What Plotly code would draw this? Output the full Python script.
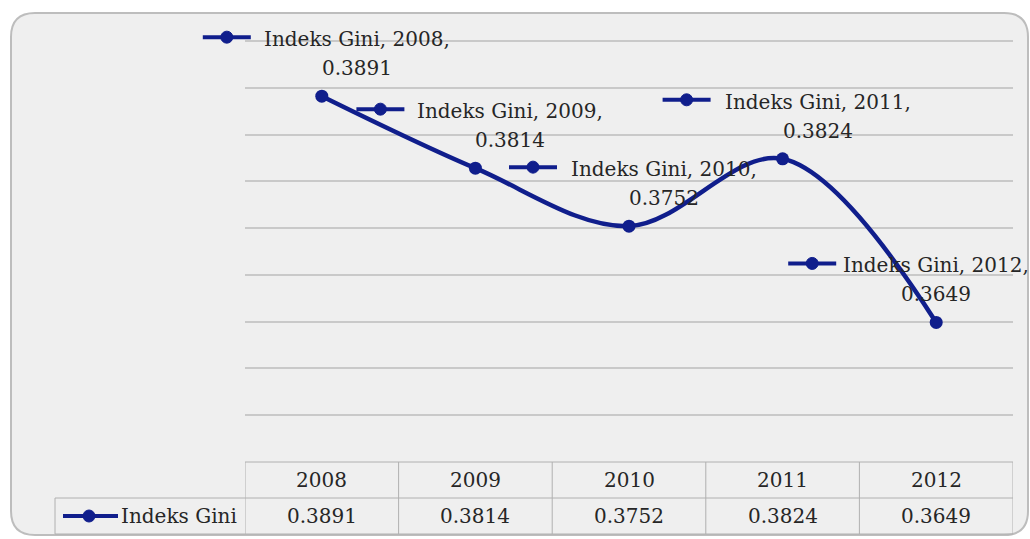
import plotly.graph_objects as go

# Gini index series
years = ["2008", "2009", "2010", "2011", "2012"]
gini = [0.3891, 0.3814, 0.3752, 0.3824, 0.3649]
series_name = "Indeks Gini"

NAVY = "#101e8c"
TEXT = "#262626"
GRID = "#c9c9c9"
TABLE_LINE = "#b0b0b0"
SERIF = "DejaVu Serif"

W, H = 1030, 539
L, R, T, B = 245, 17, 36, 119
PW, PH = W - L - R, H - T - B

# value axis: 0.355 .. 0.395 in 0.005 steps, padded a few pixels so that
# the outermost gridlines are still drawn
Y_MIN, Y_MAX, Y_STEP = 0.355, 0.395, 0.005
pad = 5 * (Y_MAX - Y_MIN) / (PH - 10)
Y_LO, Y_HI = Y_MIN - pad, Y_MAX + pad


def px(xp):
    return (xp - L) / PW


def py(yp):
    return (H - B - yp) / PH


n = len(years)

fig = go.Figure()
fig.add_trace(go.Scatter(
    x=years, y=gini, mode="lines+markers", name=series_name,
    line=dict(shape="spline", smoothing=1.0, color=NAVY, width=4.5),
    marker=dict(size=13, color=NAVY), cliponaxis=False, showlegend=False,
))

shapes = []
annotations = []

# rounded chart frame
x0, x1, y0, y1, r = 11, 1028, 13, 535, 24
rx, ry = r / PW, r / PH
path = (
    f"M {px(x0)+rx} {py(y0)} L {px(x1)-rx} {py(y0)} "
    f"Q {px(x1)} {py(y0)} {px(x1)} {py(y0)-ry} "
    f"L {px(x1)} {py(y1)+ry} Q {px(x1)} {py(y1)} {px(x1)-rx} {py(y1)} "
    f"L {px(x0)+rx} {py(y1)} Q {px(x0)} {py(y1)} {px(x0)} {py(y1)+ry} "
    f"L {px(x0)} {py(y0)-ry} Q {px(x0)} {py(y0)} {px(x0)+rx} {py(y0)} Z"
)
shapes.append(dict(type="path", xref="paper", yref="paper", path=path,
                   fillcolor="#efefef", line=dict(color="#bdbdbd", width=2),
                   layer="below"))

# data labels (name/category line, value line) with a legend key
label_dx = [35, 35, 35, 35, 0]
key_dx = [-95, -95, -96, -96, -124]
label_font = dict(family=SERIF, size=20, color=TEXT)
for i, (yr, v) in enumerate(zip(years, gini)):
    annotations.append(dict(
        x=i, y=v, xref="x", yref="y", showarrow=False,
        text=f"{series_name}, {yr},", font=label_font,
        xanchor="center", yanchor="middle",
        xshift=label_dx[i], yshift=57,
    ))
    annotations.append(dict(
        x=i, y=v, xref="x", yref="y", showarrow=False,
        text=f"{v:.4f}", font=label_font,
        xanchor="center", yanchor="middle",
        xshift=label_dx[i], yshift=28,
    ))
    # key drawn in paper space so it is not clipped by the plot area
    ax_ = (i + 0.5) / n
    ay_ = (v - Y_LO) / (Y_HI - Y_LO)
    kx = key_dx[i]
    shapes.append(dict(type="line", xref="paper", yref="paper",
                       xsizemode="pixel", ysizemode="pixel",
                       xanchor=ax_, yanchor=ay_,
                       x0=kx - 24, x1=kx + 24, y0=59, y1=59,
                       line=dict(color=NAVY, width=4)))
    shapes.append(dict(type="circle", xref="paper", yref="paper",
                       xsizemode="pixel", ysizemode="pixel",
                       xanchor=ax_, yanchor=ay_,
                       x0=kx - 6, x1=kx + 6, y0=53, y1=65,
                       fillcolor=NAVY, line=dict(color=NAVY, width=1)))

# data table under the plot
t_top, t_mid, t_bot = py(462), py(498), py(534)
t_left = px(55)
tl = dict(color=TABLE_LINE, width=1)
shapes.append(dict(type="line", xref="x", yref="paper", x0=-0.5, x1=n - 0.5,
                   y0=t_top, y1=t_top, line=tl))
for yy in (t_mid, t_bot):
    shapes.append(dict(type="line", xref="paper", yref="paper", x0=t_left,
                       x1=px(1013), y0=yy, y1=yy, line=tl))
shapes.append(dict(type="line", xref="paper", yref="paper", x0=t_left,
                   x1=t_left, y0=t_mid, y1=t_bot, line=tl))
for k in range(n + 1):
    shapes.append(dict(type="line", xref="x", yref="paper", x0=k - 0.5,
                       x1=k - 0.5, y0=t_top, y1=t_bot, line=tl))
table_font = dict(family=SERIF, size=20, color=TEXT)
for i, (yr, v) in enumerate(zip(years, gini)):
    annotations.append(dict(x=i, y=(t_top + t_mid) / 2, xref="x", yref="paper",
                            text=yr, showarrow=False, yanchor="middle",
                            font=table_font))
    annotations.append(dict(x=i, y=(t_mid + t_bot) / 2, xref="x", yref="paper",
                            text=f"{v:.4f}", showarrow=False, yanchor="middle",
                            font=table_font))

# legend key in the table's row header
ky = py(516)
shapes.append(dict(type="line", xref="paper", yref="paper", x0=px(63),
                   x1=px(118), y0=ky, y1=ky, line=dict(color=NAVY, width=4)))
shapes.append(dict(type="circle", xref="paper", yref="paper",
                   xsizemode="pixel", ysizemode="pixel",
                   xanchor=px(89), yanchor=ky, x0=-6, x1=6, y0=-6, y1=6,
                   fillcolor=NAVY, line=dict(color=NAVY, width=1)))
annotations.append(dict(x=px(239), y=ky, xref="paper", yref="paper",
                        text=series_name, showarrow=False,
                        xanchor="right", yanchor="middle",
                        font=table_font))

fig.update_layout(
    width=W, height=H,
    margin=dict(l=L, r=R, t=T, b=B, pad=0),
    paper_bgcolor="white", plot_bgcolor="rgba(0,0,0,0)",
    xaxis=dict(type="category", range=[-0.5, n - 0.5], showgrid=False,
               showticklabels=False, zeroline=False, showline=False,
               ticks=""),
    yaxis=dict(range=[Y_LO, Y_HI], tick0=Y_MIN, dtick=Y_STEP,
               showgrid=True, gridcolor=GRID, gridwidth=1.5,
               showticklabels=False, zeroline=False, showline=False,
               ticks=""),
    shapes=shapes, annotations=annotations, showlegend=False,
)

fig.write_html("out.html")
